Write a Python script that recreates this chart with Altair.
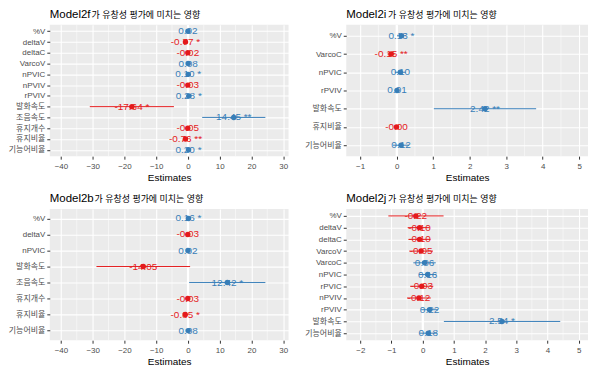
import altair as alt
import pandas as pd

RED = "#E41A1C"
BLUE = "#377EB8"
FONT = "Liberation Sans, Arial, Noto Sans CJK KR, sans-serif"
SUBTITLE = "가 유창성 평가에 미치는 영향"

# ---- Model2f ----
f_terms = ["%V", "deltaV", "deltaC", "VarcoV", "nPVIC", "nPVIV", "rPVIV",
           "발화속도", "조음속도", "휴지개수", "휴지비율", "기능어비율"]
f_est = [0.02, -0.77, -0.02, 0.08, 0.10, -0.03, 0.28, -17.64, 14.45, -0.05, -0.76, 0.20]
f_lo = [0.00, -1.40, -0.05, -0.02, 0.01, -0.08, 0.03, -30.90, 4.50, -0.12, -1.25, 0.02]
f_hi = [0.04, -0.10, 0.01, 0.18, 0.19, 0.02, 0.53, -4.40, 24.40, 0.02, -0.27, 0.38]
f_sig = ["", "*", "", "", "*", "", "*", "*", "**", "", "**", "*"]

# ---- Model2i ----
i_terms = ["%V", "VarcoC", "nPVIC", "rPVIV", "발화속도", "휴지비율", "기능어비율"]
i_est = [0.13, -0.15, 0.10, 0.01, 2.42, -0.004, 0.12]
i_lo = [0.01, -0.25, -0.05, -0.05, 1.02, -0.04, -0.10]
i_hi = [0.25, -0.05, 0.25, 0.07, 3.82, 0.03, 0.34]
i_sig = ["*", "**", "", "", "**", "", ""]

# ---- Model2b ----
b_terms = ["%V", "deltaV", "nPVIC", "발화속도", "조음속도", "휴지개수", "휴지비율", "기능어비율"]
b_est = [0.16, -0.03, 0.02, -14.05, 12.42, -0.03, -0.85, 0.08]
b_lo = [0.03, -0.07, -0.03, -28.80, 0.40, -0.08, -1.60, -0.05]
b_hi = [0.29, 0.01, 0.07, 0.70, 24.40, 0.02, -0.10, 0.21]
b_sig = ["*", "", "", "", "*", "", "*", ""]

# ---- Model2j ----
j_terms = ["%V", "deltaV", "deltaC", "VarcoV", "VarcoC", "nPVIC", "rPVIC",
           "nPVIV", "rPVIV", "발화속도", "기능어비율"]
j_est = [-0.22, -0.10, -0.10, -0.05, 0.06, 0.16, -0.03, -0.12, 0.22, 2.54, 0.18]
j_lo = [-1.10, -0.48, -0.45, -0.43, -0.30, -0.12, -0.40, -0.50, -0.05, 0.68, -0.10]
j_hi = [0.67, 0.22, 0.25, 0.33, 0.42, 0.44, 0.34, 0.26, 0.49, 4.41, 0.46]
j_sig = ["", "", "", "", "", "", "", "", "", "*", ""]

# tick labels
left_ticks = [-40, -30, -20, -10, 0, 10, 20, 30]
right_ticks_i = [-1, 0, 1, 2, 3, 4, 5]
right_ticks_j = [-2, -1, 0, 1, 2, 3, 4, 5]


def panel(name, sub_x, terms, est, lo, hi, sig, domain, ticks, width, height):
    df = pd.DataFrame({"term": terms, "est": est, "lo": lo, "hi": hi})
    df["label"] = [(f"{e:.2f} {s}").strip() for e, s in zip(est, sig)]
    df["dir"] = ["pos" if e > 0 else "neg" for e in est]

    # minor grid halfway between the major ticks; reference line at zero
    minors = [(a + b) / 2 for a, b in zip(ticks[:-1], ticks[1:])]
    minor_df = pd.DataFrame({"est": minors})
    zero_df = pd.DataFrame({"est": [0]})

    xaxis = alt.Axis(
        values=ticks,
        format="d",
        labelOverlap=False,
        title="Estimates",
        grid=True,
        gridColor="white",
        gridOpacity=1,
        gridWidth=1.1,
        tickColor="#333333",
        tickSize=3,
        domain=False,
        labelFontSize=8,
        labelColor="#4D4D4D",
        labelFont=FONT,
        labelPadding=3,
        titleFontSize=10,
        titleFontWeight="normal",
        titleColor="#000000",
        titleFont=FONT,
        titlePadding=2,
    )
    yaxis = alt.Axis(
        title=None,
        grid=True,
        gridColor="white",
        gridWidth=1.1,
        tickColor="#333333",
        tickSize=3,
        domain=False,
        labelOverlap=False,
        labelFontSize=8,
        labelColor="#4D4D4D",
        labelFont=FONT,
        labelPadding=2,
    )
    xscale = alt.Scale(domain=domain, nice=False, zero=False)
    x = alt.X("est:Q", scale=xscale, axis=xaxis)
    xlo = alt.X("lo:Q", scale=xscale, axis=xaxis)
    y = alt.Y("term:N", sort=terms, scale=alt.Scale(type="point", padding=0.6), axis=yaxis)
    color = alt.Color("dir:N", scale=alt.Scale(domain=["neg", "pos"], range=[RED, BLUE]), legend=None)

    minor = alt.Chart(minor_df).mark_rule(color="white", strokeWidth=0.5).encode(x=x)
    zero = alt.Chart(zero_df).mark_rule(color="white", strokeWidth=2).encode(x=x)
    base = alt.Chart(df)
    bars = base.mark_rule(strokeWidth=1).encode(x=xlo, x2="hi:Q", y=y, color=color)
    text = base.mark_text(fontSize=10, font=FONT, align="center", baseline="middle").encode(
        x=x, y=y, text="label:N", color=color)
    pts = base.mark_circle(size=30, opacity=1).encode(x=x, y=y, color=color)

    tdf = pd.DataFrame({"a": [0]})
    t1 = alt.Chart(tdf).mark_text(fontSize=11.5, font=FONT, align="left", baseline="alphabetic",
                                  color="black").encode(
        x=alt.value(0), y=alt.value(-7), text=alt.value(name))
    t2 = alt.Chart(tdf).mark_text(fontSize=9, font=FONT, align="left", baseline="alphabetic",
                                  color="black").encode(
        x=alt.value(sub_x), y=alt.value(-7), text=alt.value(SUBTITLE))

    return alt.layer(minor, zero, bars, text, pts, t1, t2).properties(width=width, height=height)


p_f = panel("Model2f", 42, f_terms, f_est, f_lo, f_hi, f_sig, [-43.5, 31.7], left_ticks, 240, 132)
p_i = panel("Model2i", 42, i_terms, i_est, i_lo, i_hi, i_sig, [-1.38, 5.24], right_ticks_i, 243, 132)
p_b = panel("Model2b", 45, b_terms, b_est, b_lo, b_hi, b_sig, [-43.5, 31.7], left_ticks, 240, 132)
p_j = panel("Model2j", 42, j_terms, j_est, j_lo, j_hi, j_sig, [-2.45, 5.3], right_ticks_j, 243, 132)

chart = alt.vconcat(
    alt.hconcat(p_f, p_i, spacing=16),
    alt.hconcat(p_b, p_j, spacing=16),
    spacing=11,
).properties(padding=0).configure(
    font=FONT,
    background="white",
    view=alt.ViewConfig(fill="#EBEBEB", stroke=None),
)

chart.save("out.html", embed_options={"renderer": "svg", "actions": False})
